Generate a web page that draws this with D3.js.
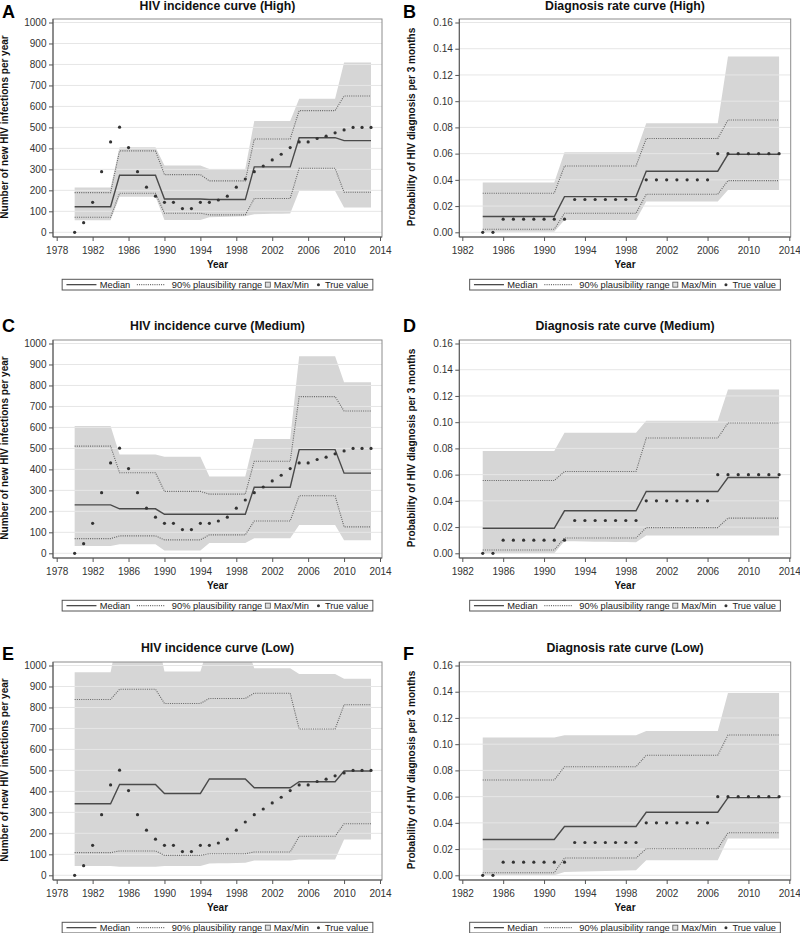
<!DOCTYPE html>
<html><head><meta charset="utf-8">
<script src="https://cdn.jsdelivr.net/npm/d3@7"></script>
<style>
body{margin:0;background:#fff}
svg{display:block}
text{font-family:"Liberation Sans",Arial,Helvetica,sans-serif}
</style></head><body>
<svg id="c" width="800" height="933"></svg>
<script>
// ---------- data ----------
const incYears = [1980,1981,1982,1983,1984,1985,1986,1987,1988,1989,1990,1991,1992,1993,1994,1995,1996,1997,1998,1999,2000,2001,2002,2003,2004,2005,2006,2007,2008,2009,2010,2011,2012,2013];
const diagYears = [1984,1985,1986,1987,1988,1989,1990,1991,1992,1993,1994,1995,1996,1997,1998,1999,2000,2001,2002,2003,2004,2005,2006,2007,2008,2009,2010,2011,2012,2013];

const incTrue = [0,46,143,289,431,501,404,289,215,172,143,143,113,113,143,143,154,172,215,254,289,316,345,372,404,431,431,447,458,474,488,500,500,500];
const diagTrue = [0,0,0.01,0.01,0.01,0.01,0.01,0.01,0.01,0.025,0.025,0.025,0.025,0.025,0.025,0.025,0.04,0.04,0.04,0.04,0.04,0.04,0.04,0.06,0.06,0.06,0.06,0.06,0.06,0.06];

// HIV incidence – High
const incMedHigh = [122,122,122,122,122,272,272,272,272,272,159,159,159,159,159,156,156,156,156,156,312,312,312,312,312,451,451,451,451,451,437,437,437,437];
const incP95High = [189,189,189,189,189,388,388,388,388,388,275,275,275,275,275,245,245,245,245,245,445,445,445,445,445,580,580,580,580,580,650,650,650,650];
const incP5High  = [72,72,72,72,72,186,186,186,186,186,91,91,91,91,91,83,83,83,83,83,161,161,161,161,161,305,305,305,305,305,191,191,191,191];
const incMaxHigh = [213,213,213,213,213,405,405,405,405,405,318,318,318,318,318,302,302,302,302,302,531,531,531,531,531,637,637,637,637,637,809,809,809,809];
const incMinHigh = [57,57,57,57,57,170,170,170,170,170,59,59,59,59,59,72,73,74,75,76,86,87,88,89,90,197,197,197,197,197,118,118,118,118];

// HIV incidence – Medium
const incMedMed = [231,231,231,231,231,212,212,212,212,212,186,186,186,186,186,186,186,186,186,186,315,315,315,315,315,494,494,494,494,494,382,382,382,382];
const incP95Med = [511,511,511,511,511,384,384,384,384,384,295,295,295,295,295,282,282,282,282,282,439,439,439,439,439,747,747,747,747,747,678,678,678,678];
const incP5Med  = [70,70,70,70,70,83,83,83,83,83,64,64,64,64,64,88,88,88,88,88,154,154,154,154,154,274,274,274,274,274,126,126,126,126];
const incMaxMed = [607,607,607,607,607,471,471,471,471,471,460,460,460,460,460,366,366,366,366,366,545,545,545,545,545,939,939,939,939,939,815,815,815,815];
const incMinMed = [35,35,35,35,35,43,43,43,43,43,13,13,13,13,13,49,49,49,49,49,72,72,72,72,72,135,135,135,135,135,62,62,62,62];

// HIV incidence – Low
const incMedLow = [341,341,341,341,341,433,433,433,433,433,390,390,390,390,390,459,459,459,459,459,417,417,417,417,417,446,446,446,446,446,497,497,497,497];
const incP95Low = [838,838,838,838,838,887,887,887,887,887,819,819,819,819,819,843,843,843,843,843,868,868,868,868,868,697,697,697,697,697,813,813,813,813];
const incP5Low  = [108,108,108,108,108,116,116,116,116,116,95,95,95,95,95,103,103,103,103,103,111,111,111,111,111,186,186,186,186,186,246,246,246,246];
const incMaxLow = [968,968,968,968,968,1180,1180,1180,1180,1180,971,971,971,971,971,1110,1110,1110,1110,1110,987,987,987,987,987,960,960,960,960,960,937,937,937,937];
const incMinLow = [44,44,44,44,44,41,41,41,41,41,44,44,44,44,44,56,57,58,59,60,71,71,71,71,71,75,75,75,75,75,171,171,171,171];

// Diagnosis rate – High
const diagMedHigh = [0.012,0.012,0.012,0.012,0.012,0.012,0.012,0.012,0.0272,0.0272,0.0272,0.0272,0.0272,0.0272,0.0272,0.0272,0.0466,0.0466,0.0466,0.0466,0.0466,0.0466,0.0466,0.0466,0.0595,0.0595,0.0595,0.0595,0.0595,0.0595];
const diagP95High = [0.0298,0.0298,0.0298,0.0298,0.0298,0.0298,0.0298,0.0298,0.0506,0.0506,0.0506,0.0506,0.0506,0.0506,0.0506,0.0506,0.0715,0.0715,0.0715,0.0715,0.0715,0.0715,0.0715,0.0715,0.0857,0.0857,0.0857,0.0857,0.0857,0.0857];
const diagP5High  = [0.0023,0.0023,0.0023,0.0023,0.0023,0.0023,0.0023,0.0023,0.0145,0.0145,0.0145,0.0145,0.0145,0.0145,0.0145,0.0145,0.029,0.029,0.029,0.029,0.029,0.029,0.029,0.029,0.0394,0.0394,0.0394,0.0394,0.0394,0.0394];
const diagMaxHigh = [0.0379,0.0379,0.0379,0.0379,0.0379,0.0379,0.0379,0.0379,0.061,0.061,0.061,0.061,0.061,0.061,0.061,0.061,0.0832,0.0832,0.0832,0.0832,0.0832,0.0832,0.0832,0.0832,0.134,0.134,0.134,0.134,0.134,0.134];
const diagMinHigh = [0.0005,0.0005,0.0005,0.0005,0.0005,0.0005,0.0005,0.0005,0.0094,0.0094,0.0094,0.0094,0.0094,0.0094,0.0094,0.0094,0.0234,0.0234,0.0234,0.0234,0.0234,0.0234,0.0234,0.0234,0.0323,0.0323,0.0323,0.0323,0.0323,0.0323];

// Diagnosis rate – Medium
const diagMedMed = [0.0191,0.0191,0.0191,0.0191,0.0191,0.0191,0.0191,0.0191,0.0324,0.0324,0.0324,0.0324,0.0324,0.0324,0.0324,0.0324,0.0471,0.0471,0.0471,0.0471,0.0471,0.0471,0.0471,0.0471,0.0578,0.0578,0.0578,0.0578,0.0578,0.0578];
const diagP95Med = [0.0555,0.0555,0.0555,0.0555,0.0555,0.0555,0.0555,0.0555,0.0624,0.0624,0.0624,0.0624,0.0624,0.0624,0.0624,0.0624,0.0879,0.0879,0.0879,0.0879,0.0879,0.0879,0.0879,0.0879,0.0994,0.0994,0.0994,0.0994,0.0994,0.0994];
const diagP5Med  = [0.0025,0.0025,0.0025,0.0025,0.0025,0.0025,0.0025,0.0025,0.0117,0.0117,0.0117,0.0117,0.0117,0.0117,0.0117,0.0117,0.0196,0.0196,0.0196,0.0196,0.0196,0.0196,0.0196,0.0196,0.0268,0.0268,0.0268,0.0268,0.0268,0.0268];
const diagMaxMed = [0.078,0.078,0.078,0.078,0.078,0.078,0.078,0.078,0.092,0.092,0.092,0.092,0.092,0.092,0.092,0.092,0.101,0.101,0.101,0.101,0.101,0.101,0.101,0.101,0.125,0.125,0.125,0.125,0.125,0.125];
const diagMinMed = [0,0,0,0,0,0,0,0,0.0092,0.0091,0.009,0.0089,0.0088,0.0087,0.0086,0.0085,0.0135,0.0135,0.0135,0.0135,0.0135,0.0135,0.0135,0.0135,0.0135,0.0135,0.0135,0.0135,0.0135,0.0135];

// Diagnosis rate – Low
const diagMedLow = [0.0273,0.0273,0.0273,0.0273,0.0273,0.0273,0.0273,0.0273,0.0372,0.0372,0.0372,0.0372,0.0372,0.0372,0.0372,0.0372,0.0481,0.0481,0.0481,0.0481,0.0481,0.0481,0.0481,0.0481,0.0592,0.0592,0.0592,0.0592,0.0592,0.0592];
const diagP95Low = [0.0727,0.0727,0.0727,0.0727,0.0727,0.0727,0.0727,0.0727,0.0828,0.0828,0.0828,0.0828,0.0828,0.0828,0.0828,0.0828,0.0916,0.0916,0.0916,0.0916,0.0916,0.0916,0.0916,0.0916,0.107,0.107,0.107,0.107,0.107,0.107];
const diagP5Low  = [0.002,0.002,0.002,0.002,0.002,0.002,0.002,0.002,0.0132,0.0132,0.0132,0.0132,0.0132,0.0132,0.0132,0.0132,0.0203,0.0203,0.0203,0.0203,0.0203,0.0203,0.0203,0.0203,0.0324,0.0324,0.0324,0.0324,0.0324,0.0324];
const diagMaxLow = [0.105,0.105,0.105,0.105,0.105,0.105,0.105,0.105,0.1068,0.1068,0.1068,0.1068,0.1068,0.1068,0.1068,0.1068,0.11,0.11,0.11,0.11,0.11,0.11,0.11,0.11,0.139,0.139,0.139,0.139,0.139,0.139];
const diagMinLow = [0,0,0,0,0,0,0,0,0.0025,0.0027,0.0029,0.0031,0.0033,0.0035,0.0037,0.0038,0.0114,0.0114,0.0114,0.0114,0.0114,0.0114,0.0114,0.0114,0.028,0.028,0.028,0.028,0.028,0.028];

const incYTicks = [0,100,200,300,400,500,600,700,800,900,1000];
const diagYTicks = [0,0.02,0.04,0.06,0.08,0.10,0.12,0.14,0.16];
const incXTicks = [1978,1982,1986,1990,1994,1998,2002,2006,2010,2014];
const diagXTicks = [1982,1986,1990,1994,1998,2002,2006,2010,2014];

const panelLetters = ["A","B","C","D","E","F"];
const panelTitles = ["HIV incidence curve (High)","Diagnosis rate curve (High)","HIV incidence curve (Medium)","Diagnosis rate curve (Medium)","HIV incidence curve (Low)","Diagnosis rate curve (Low)"];
const incYLabel = "Number of new HIV infections per year";
const diagYLabel = "Probability of HIV diagnosis per 3 months";
const xLabel = "Year";
const legendLabels = ["Median","90% plausibility range","Max/Min","True value"];

// ---------- layout ----------
const cols = [
  {fx0:53, fx1:382, r0:56.7, r1:380, letterX:2, yLabX:8},
  {fx0:459.3, fx1:790.7, r0:462.3, r1:789.3, letterX:403, yLabX:415}
];
const rows = [
  {T:19, letterY:18, titleY:10},
  {T:340, letterY:332, titleY:329.5},
  {T:662, letterY:660, titleY:651.5}
];
const FH = 218;

const panels = [
  {kind:"inc", med:incMedHigh, p95:incP95High, p5:incP5High, mx:incMaxHigh, mn:incMinHigh},
  {kind:"diag", med:diagMedHigh, p95:diagP95High, p5:diagP5High, mx:diagMaxHigh, mn:diagMinHigh},
  {kind:"inc", med:incMedMed, p95:incP95Med, p5:incP5Med, mx:incMaxMed, mn:incMinMed},
  {kind:"diag", med:diagMedMed, p95:diagP95Med, p5:diagP5Med, mx:diagMaxMed, mn:diagMinMed},
  {kind:"inc", med:incMedLow, p95:incP95Low, p5:incP5Low, mx:incMaxLow, mn:incMinLow},
  {kind:"diag", med:diagMedLow, p95:diagP95Low, p5:diagP5Low, mx:diagMaxLow, mn:diagMinLow}
];

const svg = d3.select("#c");
const defs = svg.append("defs");

panels.forEach((p, i) => {
  const col = cols[i % 2], row = rows[Math.floor(i / 2)];
  const T = row.T;
  const isInc = p.kind === "inc";
  const years = isInc ? incYears : diagYears;
  const truth = isInc ? incTrue : diagTrue;
  const x = d3.scaleLinear().domain(isInc ? [1978, 2014] : [1982, 2014]).range([col.r0, col.r1]);
  const y = d3.scaleLinear().domain(isInc ? [0, 1000] : [0, 0.16]).range([T + 213.3, T + 3.5]);
  const yTicks = isInc ? incYTicks : diagYTicks;
  const xTicks = isInc ? incXTicks : diagXTicks;
  const fmt = isInc ? d3.format("d") : d3.format(".2f");
  const cx = (col.fx0 + col.fx1) / 2;

  const cid = "clip" + i;
  defs.append("clipPath").attr("id", cid).append("rect")
    .attr("x", col.fx0).attr("y", T).attr("width", col.fx1 - col.fx0).attr("height", FH);

  const g = svg.append("g");
  const pg = g.append("g").attr("clip-path", `url(#${cid})`);

  const rowsData = years.map((yr, k) => ({yr, med:p.med[k], p95:p.p95[k], p5:p.p5[k], mx:p.mx[k], mn:p.mn[k], t:truth[k]}));

  // band
  pg.append("path").datum(rowsData)
    .attr("d", d3.area().x(d => x(d.yr)).y0(d => y(d.mn)).y1(d => y(d.mx)))
    .attr("fill", "#d6d6d6");

  // grid lines
  pg.selectAll("line.grid").data(yTicks).enter().append("line")
    .attr("x1", col.fx0).attr("x2", col.fx1)
    .attr("y1", d => y(d)).attr("y2", d => y(d))
    .attr("stroke", "#e6e6e6").attr("stroke-width", 1);

  // 90% range
  ["p95", "p5"].forEach(k => {
    pg.append("path").datum(rowsData)
      .attr("d", d3.line().x(d => x(d.yr)).y(d => y(d[k])))
      .attr("fill", "none").attr("stroke", "#666").attr("stroke-width", 1.1)
      .attr("stroke-dasharray", "1,1.2");
  });
  // median
  pg.append("path").datum(rowsData)
    .attr("d", d3.line().x(d => x(d.yr)).y(d => y(d.med)))
    .attr("fill", "none").attr("stroke", "#4a4a4a").attr("stroke-width", 1.4);
  // true values
  pg.selectAll("circle.tv").data(rowsData).enter().append("circle")
    .attr("cx", d => x(d.yr)).attr("cy", d => y(d.t)).attr("r", 1.6)
    .attr("fill", "#333");

  // frame
  g.append("rect").attr("x", col.fx0).attr("y", T).attr("width", col.fx1 - col.fx0).attr("height", FH)
    .attr("fill", "none").attr("stroke", "#8c8c8c").attr("stroke-width", 1);
  g.append("line").attr("x1", col.fx0).attr("x2", col.fx0).attr("y1", T).attr("y2", T + FH)
    .attr("stroke", "#555").attr("stroke-width", 1);
  g.append("line").attr("x1", col.fx0).attr("x2", col.fx1).attr("y1", T + FH).attr("y2", T + FH)
    .attr("stroke", "#555").attr("stroke-width", 1);

  // axes
  const ya = g.append("g").attr("transform", `translate(${col.fx0},0)`)
    .call(d3.axisLeft(y).tickValues(yTicks).tickFormat(fmt).tickSize(4).tickPadding(2.5).tickSizeOuter(0));
  const xa = g.append("g").attr("transform", `translate(0,${T + FH})`)
    .call(d3.axisBottom(x).tickValues(xTicks).tickFormat(d3.format("d")).tickSize(4).tickPadding(5.5).tickSizeOuter(0));
  [ya, xa].forEach(a => {
    a.select(".domain").remove();
    a.selectAll(".tick line").attr("stroke", "#555");
    a.selectAll(".tick text").attr("fill", "#333").style("font-size", "10px")
      .style("font-family", '"Liberation Sans",Arial,sans-serif');
  });

  // title
  g.append("text").attr("x", cx).attr("y", row.titleY).attr("text-anchor", "middle")
    .style("font-size", "12.3px").style("font-weight", "bold").attr("fill", "#111")
    .text(panelTitles[i]);
  // letter
  g.append("text").attr("x", col.letterX).attr("y", row.letterY)
    .style("font-size", "18px").style("font-weight", "bold").attr("fill", "#000")
    .text(panelLetters[i]);
  // y label
  g.append("text").attr("transform", `translate(${col.yLabX},${T + 108}) rotate(-90)`)
    .attr("text-anchor", "middle").style("font-size", "10px").style("font-weight", "bold").attr("fill", "#111")
    .text(isInc ? incYLabel : diagYLabel);
  // x label
  g.append("text").attr("x", cx).attr("y", T + 249).attr("text-anchor", "middle")
    .style("font-size", "10px").style("font-weight", "bold").attr("fill", "#111")
    .text(xLabel);

  // legend
  const lg = g.append("g");
  const ly0 = T + 260.3, lh = 10.7, lmid = ly0 + lh / 2, lbase = ly0 + 8.4;
  const box = lg.append("rect").attr("y", ly0).attr("height", lh).attr("fill", "#fff")
    .attr("stroke", "#555").attr("stroke-width", 1);
  let cxp = 0;
  const items = lg.append("g");
  const addText = (s) => {
    const t = items.append("text").attr("x", cxp).attr("y", lbase).style("font-size", "9.3px").attr("fill", "#222").text(s);
    cxp += t.node().getComputedTextLength();
  };
  cxp += 4.3;
  items.append("line").attr("x1", cxp).attr("x2", cxp + 30).attr("y1", lmid).attr("y2", lmid)
    .attr("stroke", "#4a4a4a").attr("stroke-width", 1.3);
  cxp += 33.3;
  addText(legendLabels[0]);
  cxp += 6.6;
  items.append("line").attr("x1", cxp).attr("x2", cxp + 28.4).attr("y1", lmid).attr("y2", lmid)
    .attr("stroke", "#666").attr("stroke-width", 1.1).attr("stroke-dasharray", "1,1.2");
  cxp += 35;
  addText(legendLabels[1]);
  cxp += 3;
  items.append("rect").attr("x", cxp).attr("y", lmid - 2.5).attr("width", 5).attr("height", 5)
    .attr("fill", "#e0e0e0").attr("stroke", "#555").attr("stroke-width", 0.8);
  cxp += 8.5;
  addText(legendLabels[2]);
  cxp += 9.5;
  items.append("circle").attr("cx", cxp).attr("cy", lmid).attr("r", 1.5).attr("fill", "#333");
  cxp += 6.5;
  addText(legendLabels[3]);
  cxp += 4.3;
  const lx0 = cx - cxp / 2;
  items.attr("transform", `translate(${lx0},0)`);
  box.attr("x", lx0).attr("width", cxp);
});
</script>
</body></html>
